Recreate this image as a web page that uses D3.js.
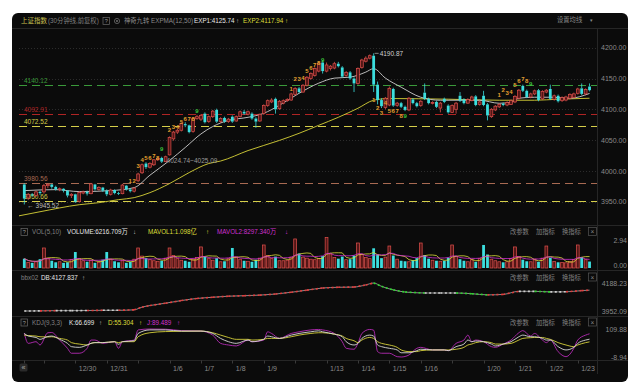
<!DOCTYPE html>
<html><head><meta charset="utf-8">
<script src="https://cdn.jsdelivr.net/npm/d3@7/dist/d3.min.js"></script>
<style>
html,body{margin:0;padding:0;background:#fff;}
svg{display:block;}
</style></head><body>
<svg id="c" width="643" height="386"></svg>
<script>
// ---------------- DATA ----------------
const dayStart=[0,5,13,21,29,37,45,53,61,69,77,85,93,101,109,117,125,133,141];
const dayLabel=["12/26","12/29","12/30","12/31","1/5","1/6","1/7","1/8","1/9","1/12","1/13","1/14","1/15","1/16","1/19","1/20","1/21","1/22","1/23"];
const dayShown=[0,0,1,1,0,1,1,1,1,0,1,1,1,1,0,1,1,1,1];

// 30-min candles [open, high, low, close]
const candles=[
[3978,3980,3945.52,3955],[3956,3964,3953,3962],[3962,3964,3958,3960],[3960,3968,3958,3966],[3966,3968,3961,3964],
[3966,3979,3963,3976],[3976,3980,3972,3978],[3978,3979,3971,3974],[3974,3976,3968,3970],[3970,3973,3967,3971],[3971,3972,3965,3968],[3968,3969,3957,3960],[3960,3964,3956,3962],
[3962,3963,3948,3950],[3950,3967,3949,3965],[3964,3968,3962,3966],[3966,3968,3960,3963],[3963,3980.5,3962,3979],[3978,3979,3968,3970],[3970,3975,3968,3973],[3973,3974,3966,3968],
[3968,3970,3959,3962],[3962,3971,3960,3969],[3969,3970,3962,3964],[3964,3966,3961,3963],[3963,3979,3962,3977],[3976,3977,3968,3970],[3970,3972,3965,3967],[3967,3974,3965,3972],
[3984,3997,3982,3995],[3997,4012,3995,4010],[4012,4014,4003,4006],[4006,4014,4004,4012],[4010,4019,4008,4018],[4018,4022,4016,4020],[4021,4023,4013,4015],[4015,4024.74,4014,4023],
[4026,4056,4025.09,4054],[4052,4065,4049,4063],[4063,4069,4060,4066],[4066,4079,4064,4077],[4076,4079,4071,4074],[4074,4075,4061,4063],[4064,4087,4062,4085],[4085,4091,4083,4088],
[4084,4092,4081,4090],[4093,4095,4077,4079],[4080,4090,4078,4088],[4088,4099,4086,4097],[4099,4101,4078,4080],[4080,4087,4078,4085],[4086,4088,4078,4080],[4080,4086,4078,4084],
[4088,4090,4078,4080],[4081,4090,4080,4088],[4088,4098,4087,4096],[4096,4099,4091,4093],[4092,4098,4090,4096],[4093,4095,4083,4085],[4085,4087,4070,4080],[4081,4093,4080,4092],
[4093,4108,4091,4106],[4106,4116,4104,4114],[4112,4118,4110,4115],[4117,4119,4093,4100],[4101,4115,4099,4113],[4110,4116,4108,4114],[4114,4118,4112,4116],[4115,4127,4114,4125],
[4124,4136,4122,4134],[4134,4136,4126,4128],[4128,4141,4127,4139],[4139,4154,4137,4152],[4150,4160,4148,4158],[4155,4168,4153,4166],[4162,4178,4160,4175],[4176,4180,4158,4162],
[4162,4176,4160,4172],[4166,4172,4163,4170],[4167,4177,4165,4174],[4174,4177,4168,4170],[4168,4170,4151,4153],[4155,4162,4153,4160],[4160,4162,4148,4150],[4150,4152,4128,4142],
[4142,4168,4140,4166],[4168,4182,4166,4180],[4178,4186,4176,4183],[4183,4189,4181,4187],[4187,4190.87,4128,4140],[4140,4145,4108,4115],[4115,4118,4102,4105],[4103,4120,4100,4118],
[4107,4137,4105,4134],[4133,4135,4104,4106],[4106,4112,4104,4110],[4110,4112,4102,4104],[4104,4106,4097,4099],[4099,4120,4097,4118],[4116,4118,4108,4110],[4110,4112,4103,4105],
[4106,4115,4104,4113],[4127,4142,4115,4117],[4117,4119,4108,4110],[4110,4113,4108,4111],[4112,4114,4102,4104],[4102,4112,4095,4110],[4117,4119,4110,4112],[4106,4108,4093,4095],
[4095,4108,4094,4106],[4100,4112,4093,4110],[4122,4128,4112,4114],[4116,4118,4108,4110],[4110,4118,4109,4116],[4114,4122,4113,4120],[4121,4123,4105,4107],[4108,4114,4106,4112],
[4122,4130,4105,4107],[4108,4110,4082,4090],[4088,4102,4086,4100],[4099,4107,4097,4105],[4104,4110,4102,4108],[4109,4111,4105,4107],[4107,4113,4105,4111],[4108,4116,4107,4114],
[4112,4123,4110,4121],[4118,4133,4116,4131],[4138,4140,4128,4130],[4130,4132,4118,4120],[4120,4127,4118,4125],[4125,4132,4123,4130],[4131,4133,4113,4115],[4117,4131,4115,4129],
[4128,4133,4126,4131],[4133,4140,4115,4117],[4116,4124,4114,4122],[4122,4124,4111,4113],[4114,4121,4112,4119],[4115,4122,4113,4120],[4118,4126,4116,4124],[4119,4127,4118,4125],
[4126,4135,4124,4133],[4134,4142,4123,4125],[4125,4134,4123,4132],[4137,4142,4129,4131]
];

// volume per bar (亿)
const volume=[
0.9,0.55,0.5,0.6,0.85,
1.93,0.95,0.7,0.55,0.6,0.5,0.55,0.8,
1.54,0.9,0.7,0.6,0.75,0.5,0.55,0.8,
1.54,0.85,0.65,0.55,0.7,0.5,0.6,0.85,
1.93,1.15,0.95,0.8,0.7,0.65,0.7,0.95,
1.93,1.2,0.9,0.75,0.7,0.6,0.85,1.0,
2.03,1.1,0.9,0.75,0.95,0.6,0.65,0.9,
1.93,1.05,0.85,0.7,0.65,0.6,0.8,0.95,
2.22,1.2,0.9,1.1,0.7,0.7,0.75,1.05,
2.8,1.4,1.05,0.95,0.85,0.8,0.9,1.15,
2.94,1.35,1.0,0.9,1.1,0.8,0.85,1.2,
2.41,1.3,1.0,0.9,1.9,1.3,0.95,1.05,
2.12,1.2,0.85,0.7,0.65,0.6,0.75,0.95,
2.41,1.25,0.9,0.75,0.7,0.65,0.7,1.0,
2.22,1.1,0.85,0.7,0.6,0.8,0.6,0.9,
2.22,1.3,0.85,0.7,0.6,0.55,0.6,0.9,
2.03,1.1,0.8,0.65,0.6,0.85,0.6,0.95,
2.12,1.0,0.62,0.55,0.52,0.5,0.617,0.8,
2.22,1.05,0.8,0.6217
];

// EXPMA lines: [bar, value]
const exp1=[[0,3968],[8,3969.6],[14,3966.4],[22,3968],[28,3972.9],[32,3993],[37,4016.9],[41,4038],[45,4060],[48,4072],[52,4082],[57,4087],[61,4093.5],[65,4106.6],[70,4126],[75,4142.4],[79,4150.6],[83,4152.2],[87,4160.4],[89,4166],[92,4150.6],[96,4135.9],[101,4119.6],[106,4114.7],[116,4114.7],[121,4109.8],[124,4111.5],[126,4118],[130,4119.6],[134,4119.6],[139,4118],[144,4125.74]];
const exp2=[[-1.4,3927],[4,3933.7],[14,3945.1],[19,3948.4],[24,3953.3],[28,3956.6],[32,3964.7],[37,3979.4],[42,3997.3],[47,4012],[50,4016],[57,4033],[65,4049.5],[70,4061],[75,4074],[80,4087],[85,4101.7],[89,4114.7],[93,4117.5],[108,4116.4],[121,4114.7],[130,4114.7],[136,4116.4],[144,4117.94]];

// horizontal reference levels
const refLevels=[4140.12,4092.91,4072.52,3980.56,3950.66];
const refNames=["4140.12","4092.91","4072.52","3980.56","3950.66"];
const priceTicks=[4200,4150,4100,4050,4000,3950];

// 神奇九转 counts: [bar, text, price-position]
const nineCounts=[
[27,"1",3984],[28,"2",3984],[29,"3",4009],[30,"4",4018],[31,"5",4021],[32,"6",4021],[33,"7",4024],[34,"8",4021],[35,"9",4036],
[37,"2",4066],[38,"3",4071],[39,"4",4072],[40,"5",4080],[41,"6",4084],[42,"7",4084],[43,"8",4084],[44,"9",4097],
[68,"1",4134],[69,"2",4149],[70,"3",4149],[71,"4",4151],[72,"5",4162],[73,"6",4167],[74,"7",4172],[75,"8",4175],[76,"9",4180],
[89,"1",4115],[90,"2",4103],[91,"3",4095],[92,"4",4110],[93,"5",4098],[94,"6",4098],[95,"7",4098],[96,"8",4089],[97,"9",4089],
[121,"1",4123],[122,"2",4131],[123,"3",4126],[124,"4",4128],[125,"5",4139],[126,"6",4147],[127,"7",4149],[128,"8",4147],[129,"9",4142]
];

// bbx02 line samples [bar, value]
const bbx=[[0,3952.09],[4,3953],[8,3955],[12,3955],[16,3956],[20,3958],[24,3958],[28,3962],[30,3985],[32,3998],[36,4018],[40,4040],[44,4058],[48,4068],[52,4077],[56,4081],[60,4086],[64,4095],[68,4110],[72,4128],[76,4146],[80,4152],[84,4154],[87,4172],[89,4188.23],[91,4160],[94,4130],[97,4112],[102,4104],[106,4104],[110,4104],[114,4098],[118,4088],[122,4092],[126,4118],[130,4118],[134,4113],[138,4114],[142,4124],[144,4127.837]];

// KDJ samples
const kdjBar=[0,1,3,4,6,7,9,11,12,14,16,17,18,20,23,24,25,28,29,32,36,40,45,48,50,52,54,57,58,61,62,63,65,68,70,73,75,76,79,81,82,84,85,86,88,89,90,91,93,95,96,98,100,101,104,107,108,110,112,113,114,115,117,119,120,122,124,126,127,129,130,132,133,134,136,138,140,141,143,144];
const kdjK=[91,80,74,66,78,80,66,49,35,32,42,49,52,52,56,45,56,60,91,106,106,101,101,91,70,56,49,63,56,66,80,77,70,84,91,98,102,98,88,77,56,42,49,70,84,80,42,35,28,21,9,9,18,24,21,21,18,35,46,63,56,59,56,46,38,46,56,77,84,77,77,70,63,63,35,21,32,49,63,66.699];
const kdjD=[84,82,80,77,76,77,70,63,52,46,42,49,52,52,56,52,56,56,77,94,99,100,101,94,84,74,66,66,63,66,70,70,70,77,84,91,94,94,88,80,70,60,52,63,74,70,56,49,42,32,21,14,14,18,21,21,21,24,32,42,46,52,56,52,46,46,49,63,70,73,74,74,70,66,52,42,35,42,52,55.304];
const kdjJ=[92,49,56,42,94,95,63,28,7,7,28,63,63,49,56,28,56,63,106,109.88,109,103,101,84,49,42,38,63,56,63,98,91,70,91,98,106,108,106,91,56,28,24,49,91,108,105,14,7,7,-7.5,-8.94,-0.4,28,32,21,21,18,49,63,84,56,63,56,35,32,46,63,94,103,80,91,63,52,63,13.7,-7.5,28,63,84,89.489];

// ---------------- DRAW ----------------
const FONT='"Liberation Sans","Noto Sans CJK SC",sans-serif';
const svg=d3.select("#c").style("font-family",FONT);
svg.append("rect").attr("x",12).attr("y",13).attr("width",616).attr("height",369).attr("rx",6).attr("fill","#0b0b0b");

const X0=19,X1=597;
const x=d3.scaleLinear().domain([-1.35,145.9]).range([X0,X1]);
const yP=d3.scaleLinear().domain([3950,4200]).range([201.7,47.7]);
const yV=d3.scaleLinear().domain([0,2.94]).range([268,237.5]);
const yB=d3.scaleLinear().domain([3952.09,4188.23]).range([311,283]);
const yK=d3.scaleLinear().domain([-8.94,109.88]).range([357,329]);

const defs=svg.append("defs");
defs.append("clipPath").attr("id","cm").append("rect").attr("x",X0).attr("y",29).attr("width",X1-X0).attr("height",196);
defs.append("clipPath").attr("id","cv").append("rect").attr("x",X0).attr("y",236).attr("width",X1-X0).attr("height",34);
defs.append("clipPath").attr("id","cb").append("rect").attr("x",X0).attr("y",280).attr("width",X1-X0).attr("height",36);
defs.append("clipPath").attr("id","ck").append("rect").attr("x",X0).attr("y",326).attr("width",X1-X0).attr("height",34);

const sep="#262626";
[28.5,225.5,270.5,316.5,360.5].forEach(v=>svg.append("line").attr("x1",12).attr("x2",628).attr("y1",v).attr("y2",v).attr("stroke",sep));
svg.append("line").attr("x1",597.5).attr("x2",597.5).attr("y1",28.5).attr("y2",374).attr("stroke",sep);

// price grid
svg.append("g").selectAll("line").data(priceTicks).join("line")
 .attr("x1",X0).attr("x2",X1).attr("y1",d=>Math.round(yP(d))+0.5).attr("y2",d=>Math.round(yP(d))+0.5)
 .attr("stroke","#2c2c2c").attr("stroke-dasharray","1,2");

// right axis labels main
const axisMain=d3.axisRight(yP).tickValues(priceTicks).tickFormat(d3.format(".2f")).tickSize(0).tickPadding(3);
const ga=svg.append("g").attr("transform",`translate(${X1+1},0)`).call(axisMain);
ga.select(".domain").remove();
ga.selectAll("text").attr("fill","#8a8a8a").style("font-size","7px").style("font-family",FONT);

// reference dashed lines
const refColors=["#3a9a3a","#b02424","#d6cf4a","#a86a52","#d6cf4a"];
const gRef=svg.append("g");
refLevels.forEach((lv,i)=>{
  const yy=Math.round(yP(lv))+0.5;
  gRef.append("line").attr("x1",X0).attr("x2",X1).attr("y1",yy).attr("y2",yy)
   .attr("stroke",refColors[i]).attr("stroke-width",1).attr("stroke-dasharray","8,5");
  gRef.append("text").attr("x",24).attr("y",yy-2.5).text(refNames[i])
   .attr("fill",refColors[i]).style("font-size","6.5px");
});

// main plot group
const gm=svg.append("g").attr("clip-path","url(#cm)");
const line=d3.line().x(d=>x(d[0])).y(d=>yP(d[1])).curve(d3.curveMonotoneX);
gm.append("path").attr("d",line(exp2)).attr("fill","none").attr("stroke","#d8d238").attr("stroke-width",0.9);
gm.append("path").attr("d",line(exp1)).attr("fill","none").attr("stroke","#cfcfcf").attr("stroke-width",0.9);

const UP_S="#e0504c",UP_F="#521616",DN="#3cdede";
const bw=2.8;
const gc=gm.append("g");
candles.forEach((c,i)=>{
  const [o,h,l,cl]=c; const up=cl>=o; const cx=x(i);
  const col=up?UP_S:DN;
  const top=yP(Math.max(o,cl)), bot=yP(Math.min(o,cl));
  gc.append("line").attr("x1",cx).attr("x2",cx).attr("y1",yP(h)).attr("y2",top).attr("stroke",col).attr("stroke-width",0.8);
  gc.append("line").attr("x1",cx).attr("x2",cx).attr("y1",bot).attr("y2",yP(l)).attr("stroke",col).attr("stroke-width",0.8);
  gc.append("rect").attr("x",cx-bw/2).attr("y",top).attr("width",bw).attr("height",Math.max(0.8,bot-top))
   .attr("fill",up?UP_F:DN).attr("stroke",up?UP_S:"none").attr("stroke-width",up?0.7:0);
});

// nine count labels
const gn=gm.append("g");
nineCounts.forEach(n=>{
  const nine=n[1]==="9";
  gn.append("text").attr("x",x(n[0])).attr("y",yP(n[2])+2.2).attr("text-anchor","middle")
   .text(n[1]).attr("fill",nine?"#3cc43c":"#e3a030").style("font-size","6px").style("font-weight","bold");
});

// annotations
const hiBar=89;
gm.append("line").attr("x1",x(hiBar)+1).attr("x2",x(hiBar)+5).attr("y1",yP(4190.87)).attr("y2",yP(4190.87)).attr("stroke","#bbb").attr("stroke-width",0.7);
gm.append("text").attr("x",x(hiBar)+6).attr("y",yP(4190.87)+2.3).text("4190.87").attr("fill","#cfcfcf").style("font-size","6.5px");
gm.append("text").attr("x",x(0)+3).attr("y",yP(3945.52)+4).text("← 3945.52").attr("fill","#bdbdbd").style("font-size","6.5px");
gm.append("text").attr("x",x(36)+1).attr("y",yP(4025)+7).text("4024.74~4025.09").attr("fill","#9a9a9a").style("font-size","6.5px");

// headers
function txt(g,xx,yy,t,col,fs,anchor){return g.append("text").attr("x",xx).attr("y",yy).text(t).attr("fill",col).style("font-size",(fs||6.5)+"px").attr("text-anchor",anchor||"start");}
function qbox(xx,yy){svg.append("rect").attr("x",xx).attr("y",yy-5.5).attr("width",6.5).attr("height",7).attr("fill","none").attr("stroke","#6a6a6a").attr("stroke-width",0.7);
 txt(svg,xx+3.25,yy,"?","#9a9a9a",5.5,"middle");}
const hy=23;
txt(svg,21,hy,"上证指数","#c8c050",6.5);
txt(svg,48,hy,"(30分钟线,前复权)","#808080",6.3);
qbox(103,hy);
svg.append("circle").attr("cx",117).attr("cy",hy-2).attr("r",2.6).attr("fill","none").attr("stroke","#7a7a7a").attr("stroke-width",0.7);
svg.append("circle").attr("cx",117).attr("cy",hy-2).attr("r",0.9).attr("fill","#7a7a7a");
txt(svg,124,hy,"神奇九转","#8a8a8a",6.3);
txt(svg,151,hy,"EXPMA(12,50)","#8a8a8a",6.3);
txt(svg,194,hy,"EXP1:4125.74","#e8e8e8",6.3);
txt(svg,236,hy,"↑","#bbbbbb",6.3);
txt(svg,243,hy,"EXP2:4117.94","#dede3a",6.3);
txt(svg,285,hy,"↑","#dede3a",6.3);
txt(svg,557,hy-1,"设置均线","#8a8a8a",6.3);
txt(svg,590,hy-1,"▾","#8a8a8a",5);

// sub panel buttons
function buttons(yy){
  txt(svg,510,yy,"改参数","#808080",6.3);
  txt(svg,536,yy,"加指标","#808080",6.3);
  txt(svg,562,yy,"换指标","#808080",6.3);
  svg.append("rect").attr("x",588.5).attr("y",yy-6.5).attr("width",8).attr("height",8).attr("fill","none").attr("stroke","#555").attr("stroke-width",0.7);
  txt(svg,592.5,yy,"×","#888",6.5,"middle");
}
buttons(234); buttons(279.5); buttons(324.5);

// volume panel
const vy=234;
qbox(21,vy);
txt(svg,32,vy,"VOL(5,10)","#808080",6.3);
txt(svg,67,vy,"VOLUME:6216.709万","#e6e6e6",6.3);
txt(svg,133,vy,"↓","#bbbbbb",6.3);
txt(svg,148,vy,"MAVOL1:1.098亿","#dede3a",6.3);
txt(svg,206,vy,"↑","#dede3a",6.3);
txt(svg,217,vy,"MAVOL2:8297.340万","#d030d0",6.3);
txt(svg,285,vy,"↓","#d030d0",6.3);

const gv=svg.append("g").attr("clip-path","url(#cv)");
volume.forEach((v,i)=>{
  const c=candles[i]; const up=c[3]>=c[0]; const cx=x(i);
  gv.append("rect").attr("x",cx-bw/2).attr("y",yV(v)).attr("width",bw).attr("height",yV(0)-yV(v))
   .attr("fill",up?UP_F:DN).attr("stroke",up?UP_S:"none").attr("stroke-width",up?0.7:0);
});
function ma(arr,n){return arr.map((_,i)=>{const s=arr.slice(Math.max(0,i-n+1),i+1);return [i,d3.mean(s)];});}
const lv=d3.line().x(d=>x(d[0])).y(d=>yV(d[1]));
gv.append("path").attr("d",lv(ma(volume,5))).attr("fill","none").attr("stroke","#dede3a").attr("stroke-width",0.8);
gv.append("path").attr("d",lv(ma(volume,10))).attr("fill","none").attr("stroke","#d030d0").attr("stroke-width",0.8);
txt(svg,627,yV(2.94)+5,"2.94","#8a8a8a",7,"end");
txt(svg,627,yV(0)-0.5,"0.00","#8a8a8a",7,"end");

// bbx panel
const by=279.5;
txt(svg,21,by,"bbx02","#808080",6.3);
txt(svg,41,by,"DB:4127.837","#e6e6e6",6.3);
txt(svg,82,by,"↑","#bbbbbb",6.3);
const gb=svg.append("g").attr("clip-path","url(#cb)");
const lb=d3.line().x(d=>x(d[0])).y(d=>yB(d[1])).curve(d3.curveMonotoneX);
gb.append("path").attr("d",lb(bbx)).attr("fill","none").attr("stroke","#9a9a9a").attr("stroke-width",0.9);
for(let i=1;i<bbx.length;i++){
  const a=bbx[i-1],b=bbx[i]; const dv=b[1]-a[1];
  const col=dv>1?"#e23c3c":(dv<-1?"#2ed42e":"#cccccc");
  gb.append("path").attr("d",lb([a,b])).attr("fill","none").attr("stroke",col).attr("stroke-width",1.6).attr("stroke-dasharray","2,2.5");
}
txt(svg,627,yB(4188.23)+2.5,"4188.23","#8a8a8a",7,"end");
txt(svg,627,yB(3952.09)+2.5,"3952.09","#8a8a8a",7,"end");

// KDJ panel
const ky=324.5;
qbox(21,ky);
txt(svg,32,ky,"KDJ(9,3,3)","#808080",6.3);
txt(svg,69,ky,"K:66.699","#e6e6e6",6.3);
txt(svg,99,ky,"↑","#bbbbbb",6.3);
txt(svg,108,ky,"D:55.304","#dede3a",6.3);
txt(svg,139,ky,"↑","#dede3a",6.3);
txt(svg,147,ky,"J:89.489","#d030d0",6.3);
txt(svg,177,ky,"↑","#d030d0",6.3);
const gk=svg.append("g").attr("clip-path","url(#ck)");
const lk=vals=>d3.line().x((d,i)=>x(kdjBar[i])).y(d=>yK(d)).curve(d3.curveMonotoneX)(vals);
gk.append("path").attr("d",lk(kdjJ)).attr("fill","none").attr("stroke","#b42ab4").attr("stroke-width",0.9);
gk.append("path").attr("d",lk(kdjD)).attr("fill","none").attr("stroke","#d6d03a").attr("stroke-width",0.9);
gk.append("path").attr("d",lk(kdjK)).attr("fill","none").attr("stroke","#d8d8d8").attr("stroke-width",0.9);
txt(svg,627,yK(109.88)+2.5,"109.88","#8a8a8a",7,"end");
txt(svg,627,yK(-8.94)+2.5,"-8.94","#8a8a8a",7,"end");

// x axis (dates)
const gx=svg.append("g");
dayStart.forEach((b,i)=>{
  const xx=Math.round(x(b))+0.5;
  gx.append("line").attr("x1",xx).attr("x2",xx).attr("y1",360.5).attr("y2",363.5).attr("stroke","#3a3a3a");
  if(dayShown[i]) txt(gx,x(b)+3.5,370.5,dayLabel[i],"#8a8a8a",7);
});
svg.append("rect").attr("x",19.5).attr("y",363.5).attr("width",8).attr("height",8).attr("rx",1.5).attr("fill","#2a2a2a");
txt(svg,23.5,370,"«","#aaa",7,"middle");
</script></body></html>
